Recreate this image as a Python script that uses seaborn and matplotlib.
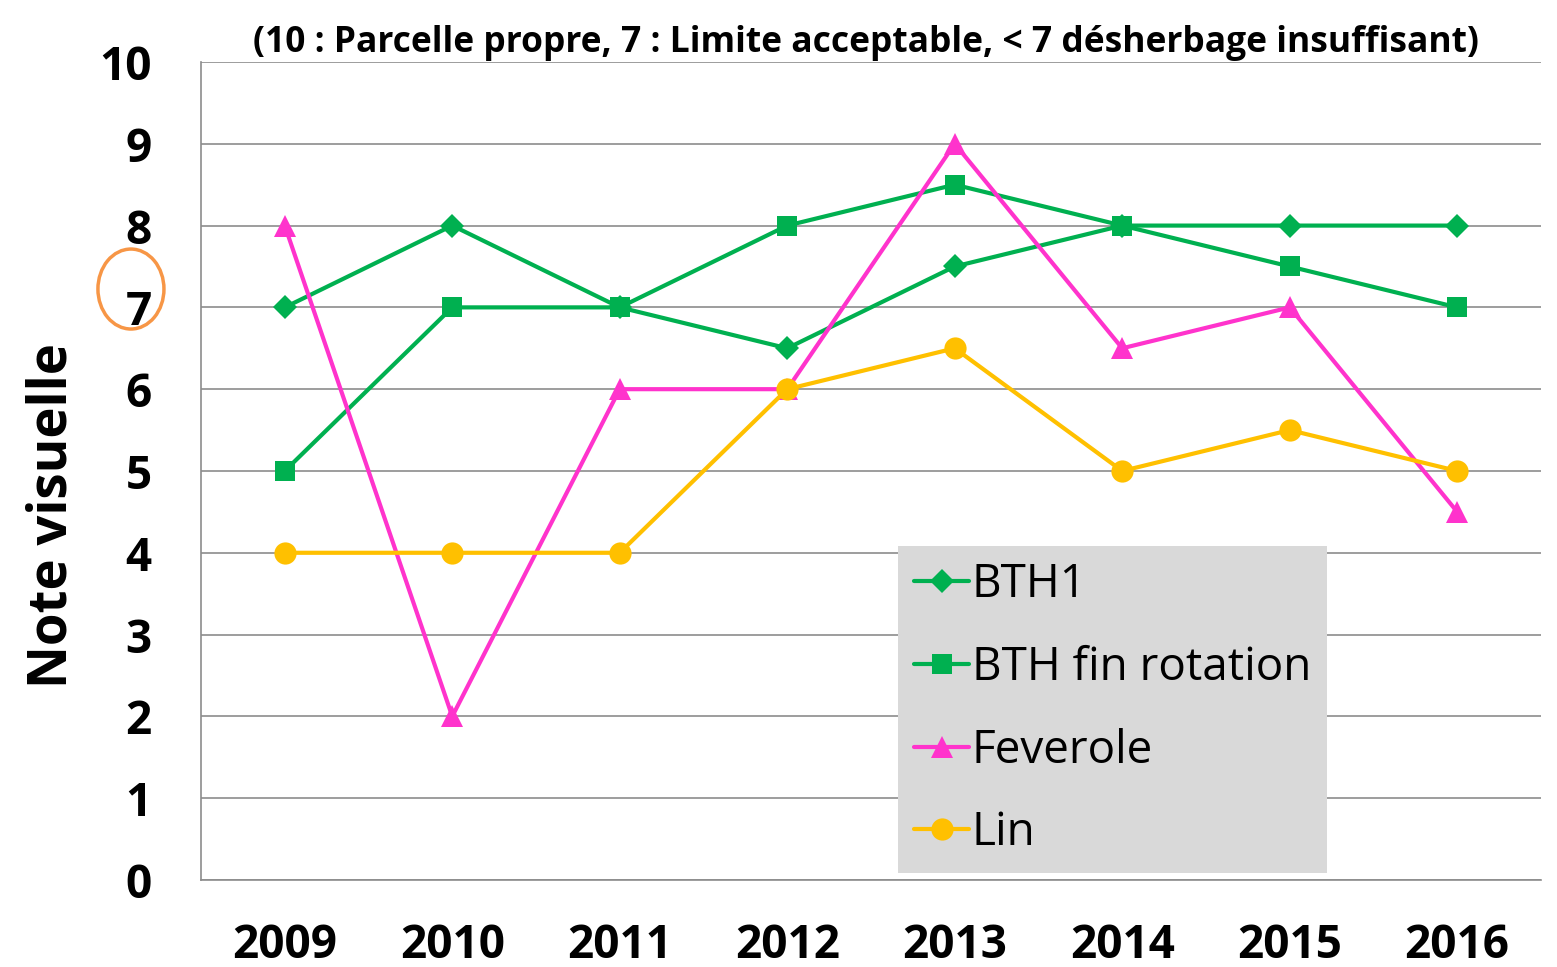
import matplotlib.pyplot as plt
import seaborn as sns
import pandas as pd
from matplotlib.patches import Ellipse

annees = ['2009', '2010', '2011', '2012', '2013', '2014', '2015', '2016']
bth1 = [7, 8, 7, 6.5, 7.5, 8, 8, 8]
bth_fin = [5, 7, 7, 8, 8.5, 8, 7.5, 7]
feverole = [8, 2, 6, 6, 9, 6.5, 7, 4.5]
lin = [4, 4, 4, 6, 6.5, 5, 5.5, 5]

series = ['BTH1', 'BTH fin rotation', 'Feverole', 'Lin']
valeurs = [bth1, bth_fin, feverole, lin]
couleurs = ['#00B050', '#00B050', '#FF33CC', '#FFC000']
marqueurs = ['D', 's', '^', 'o']
tailles = [12, 15, 16, 16]

sns.set_style('white')
plt.rcParams['font.family'] = ['Open Sans', 'DejaVu Sans']
plt.rcParams['text.color'] = 'black'
plt.rcParams['axes.labelcolor'] = 'black'
plt.rcParams['xtick.labelcolor'] = 'black'
plt.rcParams['ytick.labelcolor'] = 'black'

fig = plt.figure(figsize=(15.57, 9.67), dpi=100)
ax = fig.add_axes([0.1291, 0.0900, 0.8606, 0.8459])

x = list(range(len(annees)))
for nom, vals, c, m, t in zip(series, valeurs, couleurs, marqueurs, tailles):
    df = pd.DataFrame({'x': x, 'y': vals})
    sns.lineplot(data=df, x='x', y='y', ax=ax, color=c, marker=m,
                 markersize=t, markeredgewidth=0, linewidth=3, label=nom)

ax.set_xlim(-0.5, 7.5)
ax.set_ylim(0, 10)
ax.set_yticks(range(0, 11))
ax.set_yticklabels([str(i) for i in range(0, 11)], fontsize=33, fontweight='bold')
ax.set_xticks(x)
ax.set_xticklabels(annees, fontsize=33, fontweight='bold')
ax.set_xticks([i - 0.5 for i in range(len(annees) + 1)], minor=True)
ax.tick_params(axis='x', which='major', length=0, pad=30)
ax.tick_params(axis='x', which='minor', length=12, width=1.2, color='#8C8C8C', direction='out')
ax.tick_params(axis='y', length=11.5, width=1.2, color='#8C8C8C', direction='out', pad=24)
ax.set_xlabel('')
ax.set_ylabel('Note visuelle', fontsize=38, fontweight='bold')
ax.yaxis.set_label_coords(-0.091, 0.445)

ax.grid(axis='y', color='#8C8C8C', linewidth=1.2)
ax.grid(axis='x', visible=False)
ax.set_axisbelow(True)
for s in ['top', 'right']:
    ax.spines[s].set_visible(False)
for s in ['left', 'bottom']:
    ax.spines[s].set_color('#8C8C8C')
    ax.spines[s].set_linewidth(1.2)

leg = ax.legend(loc='lower left', bbox_to_anchor=(0.52, 0.0086), borderaxespad=0,
                fontsize=33, frameon=True, fancybox=False, facecolor='#D9D9D9',
                edgecolor='none', framealpha=1, handlelength=1.2, handletextpad=0.05,
                labelspacing=0.8, borderpad=0.36)

fig.text(0.556, 0.956, '(10 : Parcelle propre, 7 : Limite acceptable, < 7 désherbage insuffisant)',
         ha='center', va='center', fontsize=25.5, fontweight='bold')

fig.patches.append(Ellipse((0.0841, 0.7011), 0.0424, 0.0827, transform=fig.transFigure,
                           fill=False, edgecolor='#F79646', linewidth=2.5))

fig.savefig('out.png', dpi=100)
